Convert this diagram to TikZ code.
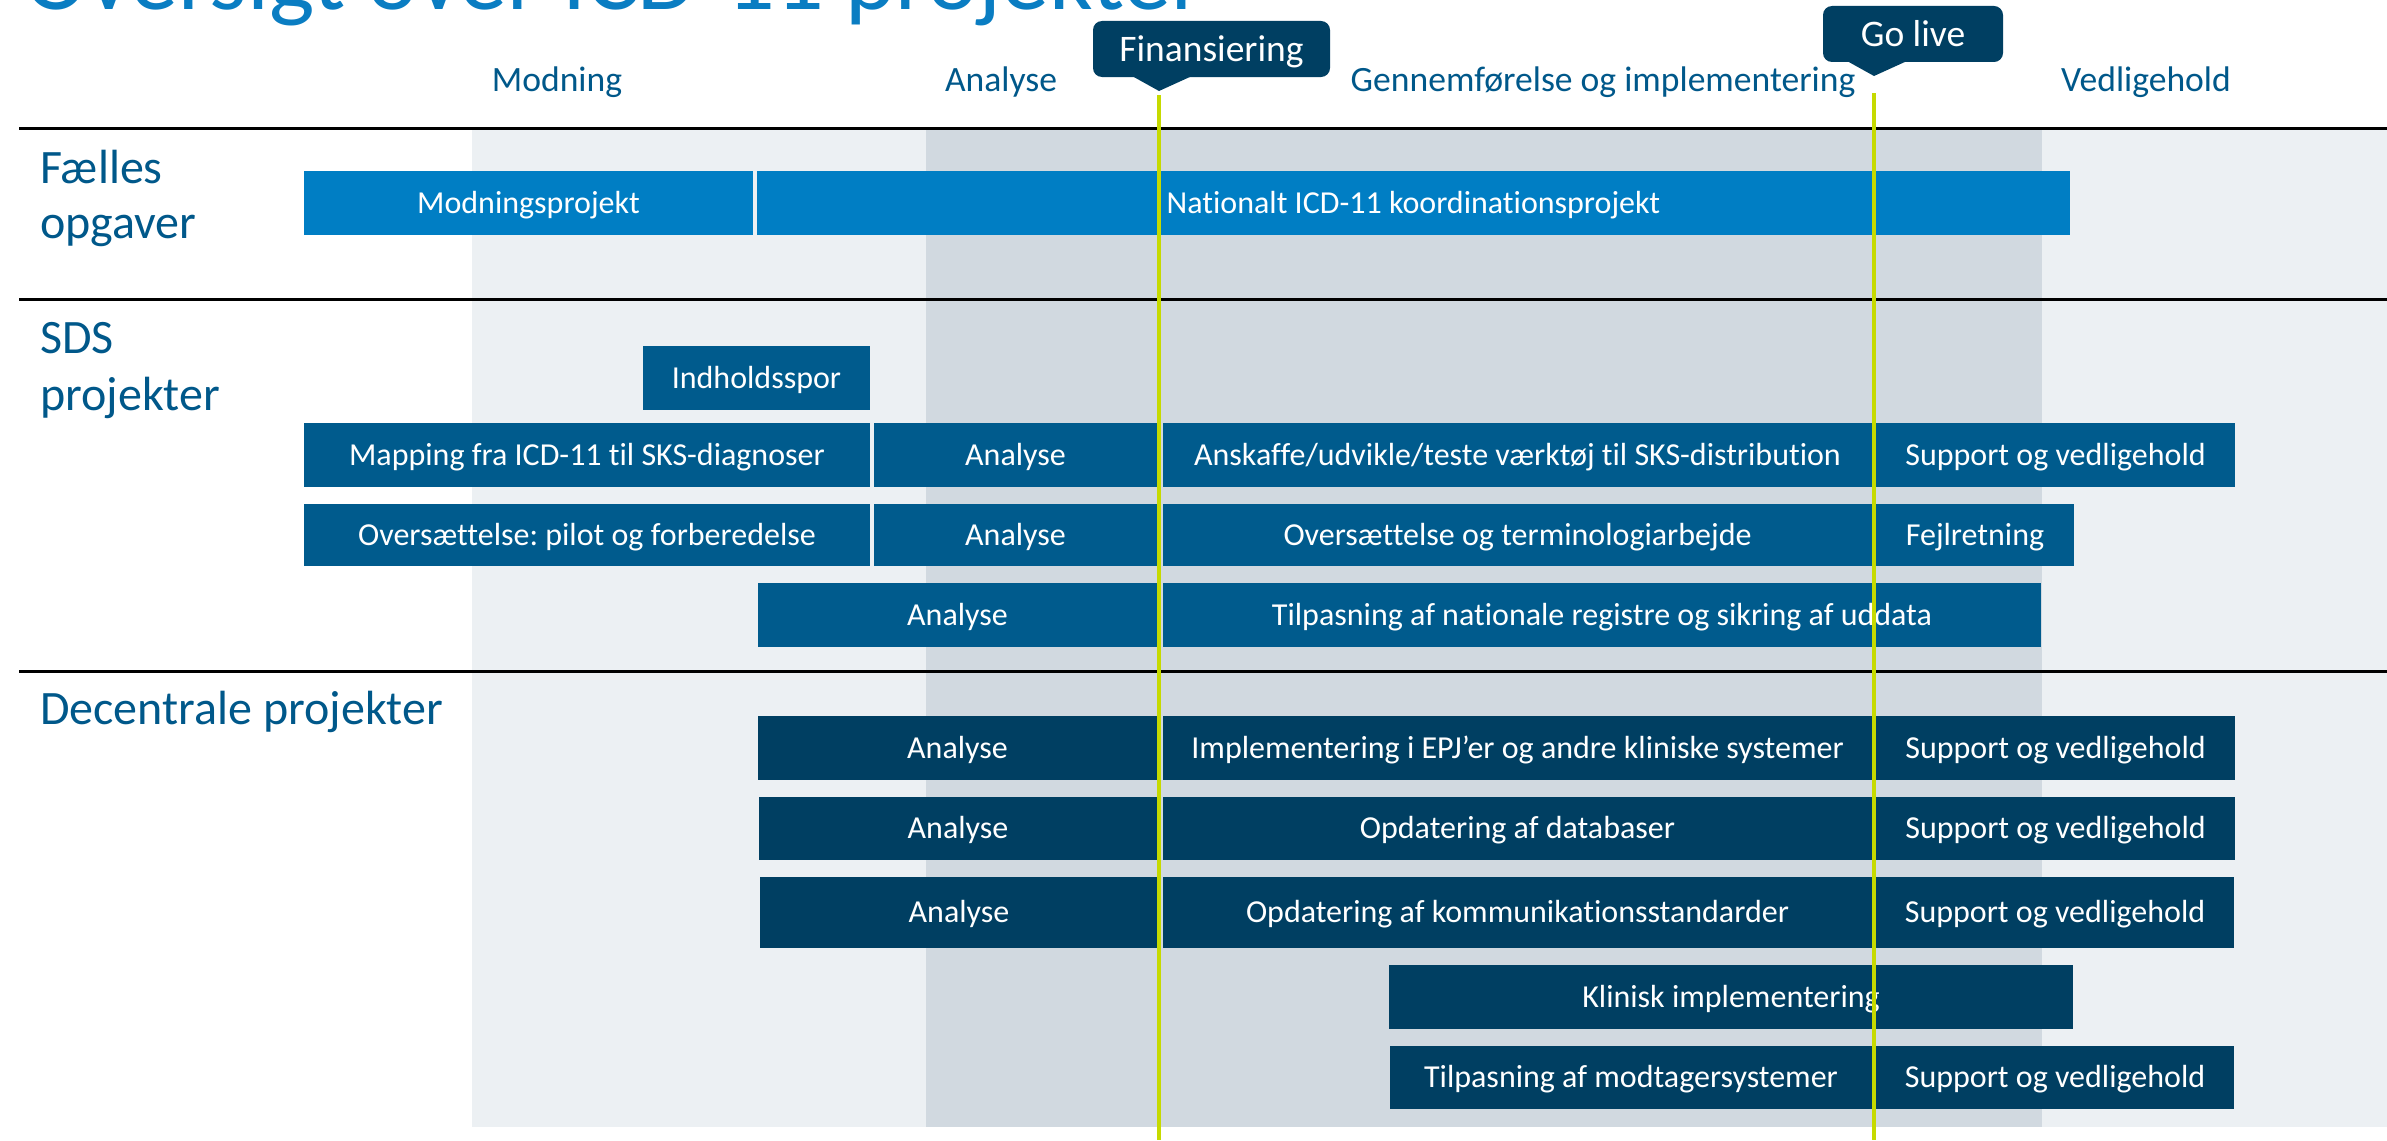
\documentclass[tikz,border=0pt]{standalone}
\usepackage{fontspec}
\setmainfont{Carlito}[Ligatures=NoCommon]
\frenchspacing
\definecolor{lightband}{RGB}{236,240,243}
\definecolor{darkband}{RGB}{209,217,224}
\definecolor{faellesblue}{RGB}{0,126,196}
\definecolor{sdsblue}{RGB}{0,91,141}
\definecolor{navy}{RGB}{0,63,98}
\definecolor{labelblue}{RGB}{0,88,138}
\definecolor{titleblue}{RGB}{10,125,194}
\definecolor{lime}{RGB}{198,218,0}
\newcommand\gbar[7]{\node[#2, minimum width={#5pt-#3pt}, minimum height={#6pt-#4pt}] (#1) at ({(#3+#5)/2},{(#4+#6)/2}) {#7};}
\begin{document}
\begin{tikzpicture}[x=1pt,y=-1pt,
  barbase/.style={inner sep=0pt, outer sep=0pt, text=white, font=\fontsize{32}{38}\selectfont, text height=20.6pt, text depth=0pt},
  fbar/.style={barbase, fill=faellesblue},
  sbar/.style={barbase, fill=sdsblue},
  dbar/.style={barbase, fill=navy},
  phase/.style={anchor=base, inner sep=0pt, text=labelblue, font=\fontsize{35.6}{42}\selectfont},
  rowlabel/.style={anchor=base west, inner sep=0pt, text=labelblue, font=\fontsize{48}{56}\selectfont},
  callout/.style={inner sep=0pt, fill=navy, text=white, rounded corners=9pt, font=\fontsize{37.5}{44}\selectfont, text height=24.2pt, text depth=0pt},
  milestone/.style={draw=lime, line width=4pt},
  divider/.style={draw=black, line width=3pt}]
\useasboundingbox (0,0) rectangle (2387,1140);
\fill[white] (0,0) rectangle (2387,1140);
% title (cut off at top, as in the reference)
\node[anchor=base west, inner sep=0pt, text=titleblue, font=\fontsize{96}{110}\selectfont] (title) at (24,10) {Oversigt over ICD-11 projekter};
% phase bands
\fill[lightband] (472,128) rectangle (2387,1127);
\fill[darkband] (926,128) rectangle (2042,1127);
% dividers
\coordinate (l1a) at (19,128); \coordinate (l1b) at (2387,128);
\coordinate (l2a) at (19,299); \coordinate (l2b) at (2387,299);
\coordinate (l3a) at (19,671); \coordinate (l3b) at (2387,671);
\draw[divider] (l1a) -- (l1b);
\draw[divider] (l2a) -- (l2b);
\draw[divider] (l3a) -- (l3b);
% phase labels
\node[phase] (pmod) at (557,91) {Modning};
\node[phase] (pana) at (1001,91) {Analyse};
\node[phase] (pgen) at (1603,91) {Gennemførelse og implementering};
\node[phase] (pved) at (2146,91) {Vedligehold};
% row labels
\node[rowlabel] (rf1) at (40,183) {Fælles};
\node[rowlabel] (rf2) at (40,238) {opgaver};
\node[rowlabel] (rs1) at (40,353) {SDS};
\node[rowlabel] (rs2) at (40,410) {projekter};
\node[rowlabel] (rd1) at (40,724) {Decentrale projekter};
% Faelles bars
\gbar{mod}{fbar}{304}{171}{753}{235}{Modningsprojekt}
\gbar{nat}{fbar}{757}{171}{2070}{235}{Nationalt ICD-11 koordinationsprojekt}
% SDS bars
\gbar{ind}{sbar}{643}{346}{870}{410}{Indholdsspor}
\gbar{map}{sbar}{304}{423}{870}{487}{Mapping fra ICD-11 til SKS-diagnoser}
\gbar{anaA}{sbar}{874}{423}{1157}{487}{Analyse}
\gbar{ansk}{sbar}{1163}{423}{1872}{487}{Anskaffe/udvikle/teste værktøj til SKS-distribution}
\gbar{supA}{sbar}{1876}{423}{2235}{487}{Support og vedligehold}
\gbar{overs}{sbar}{304}{504}{870}{566}{Oversættelse: pilot og forberedelse}
\gbar{anaB}{sbar}{874}{504}{1157}{566}{Analyse}
\gbar{term}{sbar}{1163}{504}{1872}{566}{Oversættelse og terminologiarbejde}
\gbar{fejl}{sbar}{1876}{504}{2074}{566}{Fejlretning}
\gbar{anaC}{sbar}{758}{583}{1157}{647}{Analyse}
\gbar{tilp}{sbar}{1163}{583}{2041}{647}{Tilpasning af nationale registre og sikring af uddata}
% Decentrale bars
\gbar{anaD}{dbar}{758}{716}{1157}{780}{Analyse}
\gbar{epj}{dbar}{1163}{716}{1872}{780}{Implementering i EPJ’er og andre kliniske systemer}
\gbar{supD}{dbar}{1876}{716}{2235}{780}{Support og vedligehold}
\gbar{anaE}{dbar}{759}{797}{1157}{860}{Analyse}
\gbar{db}{dbar}{1163}{797}{1872}{860}{Opdatering af databaser}
\gbar{supE}{dbar}{1876}{797}{2235}{860}{Support og vedligehold}
\gbar{anaF}{dbar}{760}{877}{1158}{948}{Analyse}
\gbar{kom}{dbar}{1163}{877}{1872}{948}{Opdatering af kommunikationsstandarder}
\gbar{supF}{dbar}{1876}{877}{2234}{948}{Support og vedligehold}
\gbar{klin}{dbar}{1389}{965}{2073}{1029}{Klinisk implementering}
\gbar{modt}{dbar}{1390}{1046}{1872}{1109}{Tilpasning af modtagersystemer}
\gbar{supG}{dbar}{1876}{1046}{2234}{1109}{Support og vedligehold}
% milestone callouts
\node[callout, minimum width=237pt, minimum height=56pt] (fin) at (1211.5,49) {Finansiering};
\fill[navy] (1132,76) -- (1159,91) -- (1192,76) -- cycle;
\coordinate (fintip) at (1159,91);
\coordinate (finbot) at (1159,1140);
\node[callout, minimum width=180pt, minimum height=56pt] (golive) at (1913,34) {Go live};
\fill[navy] (1847,61) -- (1874,76) -- (1907,61) -- cycle;
\coordinate (gotip) at (1874,76);
\coordinate (gobot) at (1874,1140);
\draw[milestone] ([yshift=-4pt]fintip) -- (finbot);
\draw[milestone] ([yshift=-17pt]gotip) -- (gobot);
\end{tikzpicture}
\end{document}
